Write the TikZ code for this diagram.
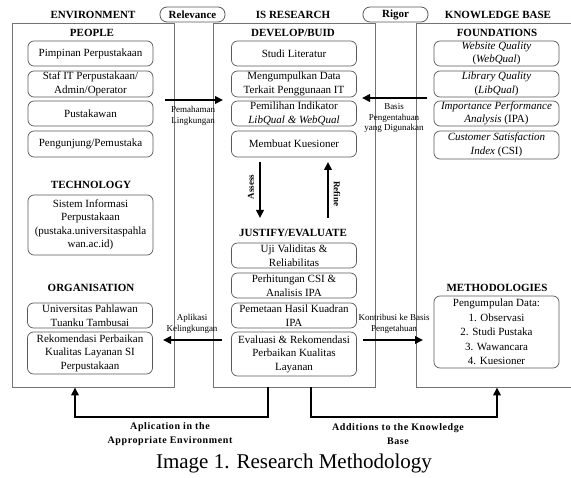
\documentclass[tikz,border=0pt]{standalone}
\usepackage{fontspec}
\setmainfont{Liberation Serif}
\newfontfamily\spacedbold[LetterSpace=6]{Liberation Serif}
\usetikzlibrary{arrows.meta}
\begin{document}
\begin{tikzpicture}[x=1pt,y=-1pt,
  outer/.style={draw=black!55, line width=0.8pt, inner sep=0pt},
  ib/.style={draw=black!65, rounded corners=6pt, line width=0.7pt, align=center, inner sep=0pt,
             font=\fontsize{11}{13.5}\selectfont},
  hdr/.style={font=\fontsize{11}{13}\selectfont\bfseries, inner sep=0pt},
  pill/.style={draw=black!65, rounded corners=7pt, line width=0.8pt, inner sep=0pt,
               minimum width=65pt, minimum height=15pt, font=\fontsize{11}{13}\selectfont\bfseries},
  lbl/.style={font=\fontsize{9}{11}\selectfont, align=center, inner sep=0pt},
  blbl/.style={font=\fontsize{10}{14}\spacedbold\bfseries, align=center, inner sep=0pt},
  conn/.style={line width=2.2pt, -{Triangle[length=8pt,width=7.5pt]}},
  wL/.style={minimum width=125pt},
]
\useasboundingbox (0,0) rectangle (571,478);

% outer boxes
\node[outer, minimum width=162pt, minimum height=364pt] (env) at (93,205) {};
\node[outer, minimum width=162pt, minimum height=364pt] (isr) at (294,205) {};
\coordinate (kbTR) at (571,23);
\coordinate (kbTL) at (416,23);
\coordinate (kbBL) at (416,387);
\coordinate (kbBR) at (571,387);
\draw[draw=black!55, line width=0.8pt] (kbTR) -- (kbTL) -- (kbBL) -- (kbBR);

% top headers
\node[hdr] (henv) at (93,15) {ENVIRONMENT};
\node[hdr] (hisr) at (293,15) {IS RESEARCH};
\node[hdr] (hkb) at (498,15) {KNOWLEDGE BASE};
\node[pill] (rel) at (192.5,14.5) {Relevance};
\node[pill] (rig) at (395.5,14.5) {Rigor};

% section titles
\node[hdr] (tpeople) at (92,33) {PEOPLE};
\node[hdr] (tdev) at (293,33) {DEVELOP/BUID};
\node[hdr] (tfound) at (497,33) {FOUNDATIONS};
\node[hdr] (ttech) at (91,185) {TECHNOLOGY};
\node[hdr] (torg) at (91,288) {ORGANISATION};
\node[hdr] (tjust) at (293,233) {JUSTIFY/EVALUATE};
\node[hdr] (tmeth) at (497,288) {METHODOLOGIES};

% environment boxes
\node[ib, wL, minimum height=25pt] (e1) at (90.5,53.5) {Pimpinan Perpustakaan};
\node[ib, wL, minimum height=26pt] (e2) at (90.5,84) {Staf IT Perpustakaan/\\Admin/Operator};
\node[ib, wL, minimum height=25pt] (e3) at (90.5,113.5) {Pustakawan};
\node[ib, wL, minimum height=26pt] (e4) at (90.5,144) {Pengunjung/Pemustaka};
\node[ib, wL, minimum height=60pt] (e5) at (90.5,225) {Sistem Informasi\\Perpustakaan\\(pustaka.universitaspahla\\wan.ac.id)};
\node[ib, wL, minimum height=25pt] (e6) at (90,315.5) {Universitas Pahlawan\\Tuanku Tambusai};
\node[ib, wL, minimum height=42pt] (e7) at (90,353) {Rekomendasi Perbaikan\\Kualitas Layanan SI\\Perpustakaan};

% IS research boxes
\node[ib, wL, minimum height=25pt] (d1) at (294,53.5) {Studi Literatur};
\node[ib, wL, minimum height=26pt] (d2) at (294,84) {Mengumpulkan Data\\Terkait Penggunaan IT};
\node[ib, wL, minimum height=25pt] (d3) at (294,113.5) {Pemilihan Indikator\\\textit{LibQual \& WebQual}};
\node[ib, wL, minimum height=26pt] (d4) at (294,144) {Membuat Kuesioner};
\node[ib, wL, minimum height=25pt] (j1) at (294,255.5) {Uji Validitas \&\\Reliabilitas};
\node[ib, wL, minimum height=25pt] (j2) at (294,285.5) {Perhitungan CSI \&\\Analisis IPA};
\node[ib, wL, minimum height=25pt] (j3) at (294,315.5) {Pemetaan Hasil Kuadran\\IPA};
\node[ib, wL, minimum height=44pt] (j4) at (294,354) {Evaluasi \& Rekomendasi\\Perbaikan Kualitas\\Layanan};

% knowledge base boxes
\node[ib, wL, minimum height=25pt] (k1) at (496.5,53.5) {\textit{Website Quality}\\(\textit{WebQual})};
\node[ib, wL, minimum height=26pt] (k2) at (496.5,84) {\textit{Library Quality}\\(\textit{LibQual})};
\node[ib, wL, minimum height=25pt] (k3) at (496.5,113.5) {\textit{Importance Performance}\\\textit{Analysis} (IPA)};
\node[ib, wL, minimum height=28pt] (k4) at (496.5,145) {\textit{Customer Satisfaction}\\\textit{Index} (CSI)};
\node[ib, wL, minimum height=72pt, font=\fontsize{11}{14.5}\selectfont] (m1) at (496.5,332) {Pengumpulan Data:\\1. Observasi\\2. Studi Pustaka\\3. Wawancara\\4. Kuesioner};

% horizontal connectors
\coordinate (pemS) at (165,100);
\coordinate (pemE) at (223,100);
\draw[conn] (pemS) -- (pemE);
\node[lbl] (pemL) at (193,116) {Pemahaman\\Lingkungan};

\coordinate (basS) at (427,98);
\coordinate (basE) at (362,98);
\draw[conn] (basS) -- (basE);
\node[lbl, font=\fontsize{9}{10.5}\selectfont] (basL) at (394,118) {Basis\\Pengentahuan\\yang Digunakan};

\coordinate (aplS) at (222,340);
\coordinate (aplE) at (163,340);
\draw[conn] (aplS) -- (aplE);
\node[lbl] (aplL) at (192,323.5) {Aplikasi\\Kelingkungan};

\coordinate (konS) at (363,340);
\coordinate (konE) at (423,340);
\draw[conn] (konS) -- (konE);
\node[lbl] (konL) at (394,323.5) {Kontribusi ke Basis\\Pengetahuan};

% assess / refine
\coordinate (asS) at (260,162);
\coordinate (asE) at (260,218);
\draw[conn] (asS) -- (asE);
\node[lbl, font=\fontsize{9}{11}\selectfont\bfseries, rotate=90] (asL) at (251,187) {Assess};
\coordinate (reS) at (328,218);
\coordinate (reE) at (328,162);
\draw[conn] (reS) -- (reE);
\node[lbl, font=\fontsize{9}{11}\selectfont\bfseries, rotate=-90] (reL) at (337,194) {Refine};

% bottom connectors
\coordinate (bl1) at (268,387);
\coordinate (bl2) at (268,417);
\coordinate (bl3) at (75,417);
\coordinate (bl4) at (75,387.5);
\draw[conn] (bl1) -- (bl2) -- (bl3) -- (bl4);
\coordinate (br1) at (311,387);
\coordinate (br2) at (311,417);
\coordinate (br3) at (497,417);
\coordinate (br4) at (497,387.5);
\draw[conn] (br1) -- (br2) -- (br3) -- (br4);
\node[blbl] (bll) at (170,434) {Aplication in the\\Appropriate Environment};
\node[blbl] (brl) at (398,434) {Additions to the Knowledge\\Base};

% caption
\node[inner sep=0pt, font=\fontsize{21}{25}\selectfont] (cap) at (294,463) {Image 1. Research Methodology};
\end{tikzpicture}
\end{document}
